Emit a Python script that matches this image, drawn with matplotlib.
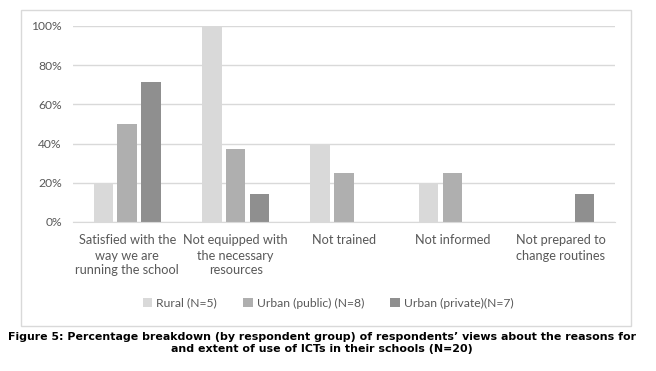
import numpy as np
import matplotlib.pyplot as plt
from matplotlib.patches import Rectangle

# data
categories = ["Satisfied with the\nway we are\nrunning the school",
              "Not equipped with\nthe necessary\nresources",
              "Not trained",
              "Not informed",
              "Not prepared to\nchange routines"]
rural = [20, 100, 40, 20, 0]
urban_public = [50, 37.5, 25, 25, 0]
urban_private = [71.4, 14.3, 0, 0, 14.3]
series_names = ["Rural (N=5)", "Urban (public) (N=8)", "Urban (private)(N=7)"]
colors = ["#d9d9d9", "#afafaf", "#8f8f8f"]

plt.rcParams['font.family'] = ['Lato', 'DejaVu Sans']

fig = plt.figure(figsize=(6.56, 3.71), dpi=100)
W, H = 656, 371
ax = fig.add_axes([73 / W, 1 - 222 / H, (615 - 73) / W, (222 - 26) / H])

# outer chart frame
fig.patches.append(Rectangle((21 / W, 1 - 326 / H), (631 - 21) / W, (326 - 10) / H,
                             transform=fig.transFigure, fill=False,
                             edgecolor="#d9d9d9", linewidth=1))

x = np.arange(len(categories))
bw = 0.18
gap = 0.04
for i, (vals, name, c) in enumerate(zip([rural, urban_public, urban_private], series_names, colors)):
    ax.bar(x + (i - 1) * (bw + gap), vals, bw, color=c, label=name, zorder=2)

ax.set_xlim(-0.5, len(categories) - 0.5)
ax.set_ylim(0, 100)
ax.set_yticks(range(0, 101, 20))
ax.set_yticklabels([f"{v}%" for v in range(0, 101, 20)], fontsize=8.7, color="#595959")
ax.set_xticks(x)
ax.set_xticklabels(categories, fontsize=9.2, color="#595959", linespacing=1.3)
ax.tick_params(length=0, pad=8)
ax.tick_params(axis='x', pad=9)
ax.grid(axis='y', color="#d9d9d9", linewidth=1, zorder=0)
for s in ["top", "right", "left"]:
    ax.spines[s].set_visible(False)
ax.spines["bottom"].set_color("#d9d9d9")

fig.legend(loc="center", bbox_to_anchor=(0.5, 1 - 303 / H), ncol=3, frameon=False,
           fontsize=8.7, handlelength=0.8, handleheight=0.8, handletextpad=0.3,
           columnspacing=2.2, labelcolor="#595959")

fig.text(322 / W, 1 - 343 / H,
         "Figure 5: Percentage breakdown (by respondent group) of respondents\u2019 views about the reasons for\n"
         "and extent of use of ICTs in their schools (N=20)",
         ha="center", va="center", fontsize=7.95, fontweight="bold", linespacing=1.2,
         family=['DejaVu Sans'])

fig.savefig("out.png", dpi=100)
